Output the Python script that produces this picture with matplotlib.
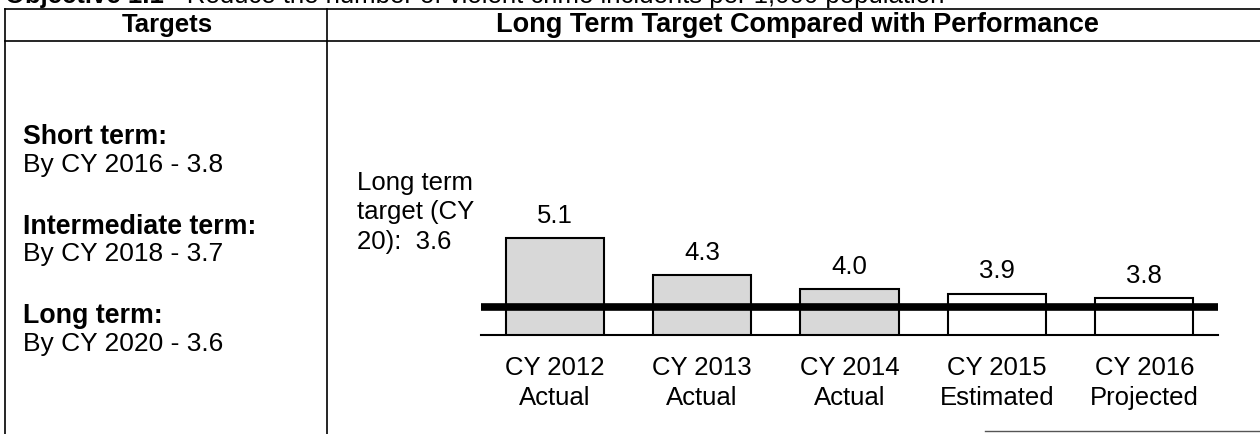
import matplotlib
matplotlib.use('Agg')
import matplotlib.pyplot as plt
from matplotlib.lines import Line2D

plt.rcParams.update({
    'font.family': 'Liberation Sans',
    'font.size': 18.5,
})

# data
years = ['CY 2012', 'CY 2013', 'CY 2014', 'CY 2015', 'CY 2016']
status = ['Actual', 'Actual', 'Actual', 'Estimated', 'Projected']
values = [5.1, 4.3, 4.0, 3.9, 3.8]
long_term_target = 3.6
term_labels = ['Short term:', 'Intermediate term:', 'Long term:']
term_lines = ['By CY 2016 - 3.8', 'By CY 2018 - 3.7', 'By CY 2020 - 3.6']

W, H = 1260, 434
fig = plt.figure(figsize=(W / 100, H / 100), dpi=100)


def fx(x):
    return x / W


def fy(y):
    return 1 - y / H


# ─── table frame ──────────────────────────────────────────────────────────────
frame = [
    ((5, W), (9, 9)),        # top rule
    ((5, W), (41, 41)),      # header bottom rule
    ((5, 5), (9, H)),        # left border
    ((327, 327), (9, H)),    # column divider
]
for xs, ys in frame:
    fig.add_artist(Line2D([fx(x) for x in xs], [fy(y) for y in ys],
                          color='black', lw=1.2, transform=fig.transFigure))
fig.add_artist(Line2D([fx(985), fx(W)], [fy(431), fy(431)], color='#555555',
                      lw=1.0, transform=fig.transFigure))

# cut-off title above the table
t1 = fig.text(fx(5), fy(-4), 'Objective 1.1', fontweight='bold', ha='left', va='center')
fig.canvas.draw()
bb = t1.get_window_extent(fig.canvas.get_renderer())
fig.text(bb.x1 / W, fy(-4), ' - Reduce the number of violent crime incidents per 1,000 population',
         ha='left', va='center')

fig.text(fx(167), fy(25), 'Targets', fontweight='bold', ha='center', va='center')
fig.text(fx(797), fy(25), 'Long Term Target Compared with Performance',
         fontweight='bold', ha='center', va='center', fontsize=19.5)

# left column: targets
for i, (lab, line) in enumerate(zip(term_labels, term_lines)):
    y0 = 137 + i * 89.5
    fig.text(fx(23), fy(y0), lab, fontweight='bold', ha='left', va='center', fontsize=19.3)
    fig.text(fx(23), fy(y0 + 28), line, ha='left', va='center', fontsize=19)

fig.text(fx(357), fy(171), f'Long term\ntarget (CY\n20):  {long_term_target:.1f}',
         ha='left', va='top', linespacing=1.28)

# ─── bar chart ────────────────────────────────────────────────────────────────
ax = fig.add_axes([fx(481), fy(335), (1218 - 481) / W, 185 / H])
x = range(len(values))
fills = ['#d8d8d8' if s == 'Actual' else 'white' for s in status]
ax.bar(x, values, width=0.667, color=fills, edgecolor='black', linewidth=1.5, zorder=2)
ax.axhline(long_term_target, color='black', lw=5.5, zorder=3)
for i, v in enumerate(values):
    ax.annotate(f'{v:.1f}', (i, v), xytext=(0, 16), textcoords='offset points',
                ha='center', va='center')

ax.set_xlim(-0.5, len(values) - 0.5)
ax.set_ylim(3.0, 3.0 + 185 / 46)
ax.set_xticks(list(x))
ax.set_xticklabels([f'{y}\n{s}' for y, s in zip(years, status)], linespacing=1.3)
ax.tick_params(axis='x', length=0, pad=15)
ax.set_yticks([])
for side in ['top', 'right', 'left']:
    ax.spines[side].set_visible(False)
ax.spines['bottom'].set_linewidth(1.5)
ax.patch.set_alpha(0)

fig.savefig('out.png', dpi=100)
print('saved')
